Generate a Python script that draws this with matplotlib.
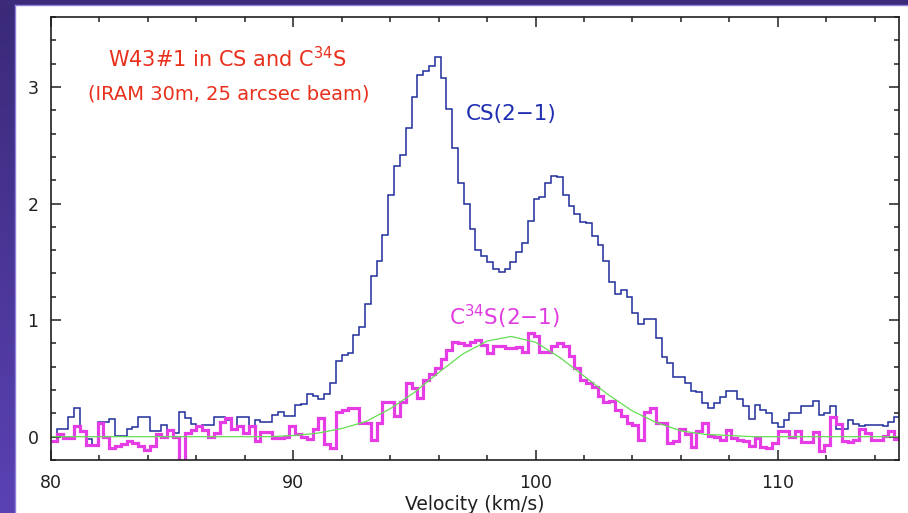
import numpy as np
import matplotlib
matplotlib.use("Agg")
import matplotlib.pyplot as plt
from matplotlib.ticker import MultipleLocator
from matplotlib.lines import Line2D
from matplotlib.colors import LinearSegmentedColormap

# spectrometer channel grid (km/s)
v_start = 80.0
chan_width = 0.24

# CS(2-1) main beam temperature per channel (K)
cs_21 = [
    0.00, 0.07, 0.07, 0.17, 0.25, 0.05, -0.02, -0.08, 0.13, 0.13,
    0.15, 0.01, 0.01, 0.065, 0.08, 0.17, 0.17, 0.05, 0.045, 0.10,
    0.06, 0.03, 0.21, 0.16, 0.11, 0.09, 0.10, 0.10, 0.17, 0.17,
    0.145, 0.07, 0.17, 0.17, 0.09, 0.14, 0.13, 0.13, 0.19, 0.21,
    0.18, 0.18, 0.27, 0.28, 0.37, 0.35, 0.32, 0.37, 0.46, 0.65,
    0.70, 0.72, 0.87, 0.94, 1.14, 1.38, 1.51, 1.73, 2.07, 2.32,
    2.42, 2.65, 2.91, 3.10, 3.14, 3.18, 3.26, 3.08, 2.81, 2.48,
    2.18, 2.00, 1.78, 1.60, 1.55, 1.50, 1.44, 1.41, 1.44, 1.50,
    1.58, 1.66, 1.85, 2.04, 2.06, 2.18, 2.24, 2.23, 2.07, 1.98,
    1.91, 1.84, 1.83, 1.72, 1.64, 1.51, 1.33, 1.22, 1.26, 1.20,
    1.06, 0.97, 1.01, 1.01, 0.85, 0.68, 0.63, 0.51, 0.51, 0.46,
    0.39, 0.38, 0.29, 0.245, 0.29, 0.34, 0.39, 0.39, 0.32, 0.26,
    0.15, 0.27, 0.23, 0.20, 0.12, 0.08, 0.145, 0.20, 0.20, 0.26,
    0.26, 0.31, 0.19, 0.20, 0.26, 0.07, 0.07, 0.145, 0.11, 0.09,
    0.10, 0.10, 0.10, 0.09, 0.13, 0.17,
]

# C34S(2-1) per channel (K)
c34s_21 = [
    -0.04, 0.02, -0.01, -0.01, 0.09, 0.045, -0.07, -0.07, 0.12, 0.0,
    -0.10, -0.08, -0.06, -0.04, -0.05, -0.08, -0.11, -0.08, 0.02, 0.0,
    0.06, 0.0, -0.22, 0.03, 0.06, 0.09, 0.06, 0.0, 0.03, 0.13,
    0.16, 0.07, 0.09, 0.03, 0.09, -0.04, 0.04, 0.04, -0.01, -0.01,
    0.0, 0.09, 0.02, 0.0, -0.02, 0.07, 0.16, -0.06, -0.10, 0.21,
    0.23, 0.245, 0.25, 0.12, 0.12, -0.03, 0.12, 0.30, 0.30, 0.18,
    0.30, 0.46, 0.42, 0.33, 0.49, 0.54, 0.59, 0.67, 0.74, 0.81,
    0.80, 0.79, 0.81, 0.83, 0.79, 0.72, 0.78, 0.78, 0.76, 0.76,
    0.77, 0.73, 0.89, 0.86, 0.73, 0.73, 0.78, 0.80, 0.78, 0.69,
    0.59, 0.49, 0.46, 0.43, 0.35, 0.30, 0.31, 0.23, 0.18, 0.12,
    0.10, -0.03, 0.21, 0.245, 0.12, 0.12, -0.05, -0.04, 0.07, 0.02,
    -0.09, 0.05, 0.12, 0.01, 0.0, -0.03, 0.06, -0.01, -0.03, -0.04,
    -0.08, -0.01, -0.09, -0.10, -0.05, 0.05, 0.045, 0.0, 0.045, -0.045,
    -0.045, 0.04, -0.12, -0.07, 0.17, 0.11, -0.04, -0.045, -0.03, 0.065,
    0.03, -0.03, -0.03, 0.01, 0.045, -0.02,
]

# gaussian fit to the C34S line, read every 1 km/s
fit_vel = list(range(80, 116))
fit_temp = [
    0.0, 0.0, 0.0, 0.0, 0.0, 0.0, 0.0, 0.0, 0.0, 0.0,
    0.01, 0.03, 0.07, 0.13, 0.24, 0.38, 0.55, 0.71, 0.82, 0.86,
    0.81, 0.68, 0.52, 0.36, 0.22, 0.12, 0.05, 0.02, 0.01, 0.0,
    0.0, 0.0, 0.0, 0.0, 0.0, 0.0,
]

edges = v_start + chan_width * np.arange(len(cs_21) + 1)

W, H = 908, 513
fig = plt.figure(figsize=(W / 100, H / 100), dpi=100)
fig.patch.set_facecolor("white")

# purple slide background around the plot
side = fig.add_axes([0, 0, 15 / W, 1])
grad = np.linspace(0, 1, 256).reshape(-1, 1)
cmap = LinearSegmentedColormap.from_list("slide", ["#3a2a78", "#5a42b4"])
side.imshow(grad, aspect="auto", cmap=cmap, extent=[0, 1, 0, 1], origin="upper")
side.set_axis_off()
top = fig.add_axes([0, 1 - 5 / H, 1, 5 / H])
top.set_facecolor("#3c2b7a")
top.set_xticks([]); top.set_yticks([])
for s in top.spines.values():
    s.set_visible(False)
fig.lines.append(Line2D([15 / W, 15 / W], [0, 1 - 5 / H], transform=fig.transFigure,
                        color="#8f80e0", lw=1))
fig.lines.append(Line2D([15 / W, 1], [1 - 5 / H, 1 - 5 / H], transform=fig.transFigure,
                        color="#8f80e0", lw=1))

ax = fig.add_axes([51 / W, 53 / H, 848 / W, 443 / H])
ax.stairs(cs_21, edges, baseline=None, color="#1f2e9c", lw=1.1)
ax.stairs(c34s_21, edges, baseline=None, color="#e63ce6", lw=2.3)
ax.plot(fit_vel, fit_temp, color="#66dd55", lw=0.9)

ax.set_xlim(80, 115)
ax.set_ylim(-0.2, 3.6)
ax.xaxis.set_major_locator(MultipleLocator(10))
ax.xaxis.set_minor_locator(MultipleLocator(2))
ax.yaxis.set_major_locator(MultipleLocator(1))
ax.yaxis.set_minor_locator(MultipleLocator(0.2))
ax.tick_params(which="both", direction="in", top=True, right=True, width=1.1, colors="#202020")
ax.tick_params(which="major", length=7.5, labelsize=12.5)
ax.tick_params(axis="x", which="major", pad=10)
ax.tick_params(axis="y", which="major", pad=9)
ax.tick_params(which="minor", length=3.8)
for s in ax.spines.values():
    s.set_linewidth(1.2)
    s.set_color("#202020")
ax.set_xlabel("Velocity (km/s)", fontsize=13.5, color="#202020", labelpad=2)

ax.text(87.3, 3.24, "W43#1 in CS and C$^{34}$S", color="#e8301c", fontsize=15,
        ha="center", va="center")
ax.text(87.35, 2.94, "(IRAM 30m, 25 arcsec beam)", color="#e8301c", fontsize=14,
        ha="center", va="center")
ax.text(99.0, 2.77, "CS(2\u22121)", color="#1f2eb0", fontsize=15.5, ha="center", va="center")
ax.text(98.7, 1.03, "C$^{34}$S(2\u22121)", color="#e03ce0", fontsize=15.5, ha="center", va="center")

fig.savefig("out.png", dpi=100)
